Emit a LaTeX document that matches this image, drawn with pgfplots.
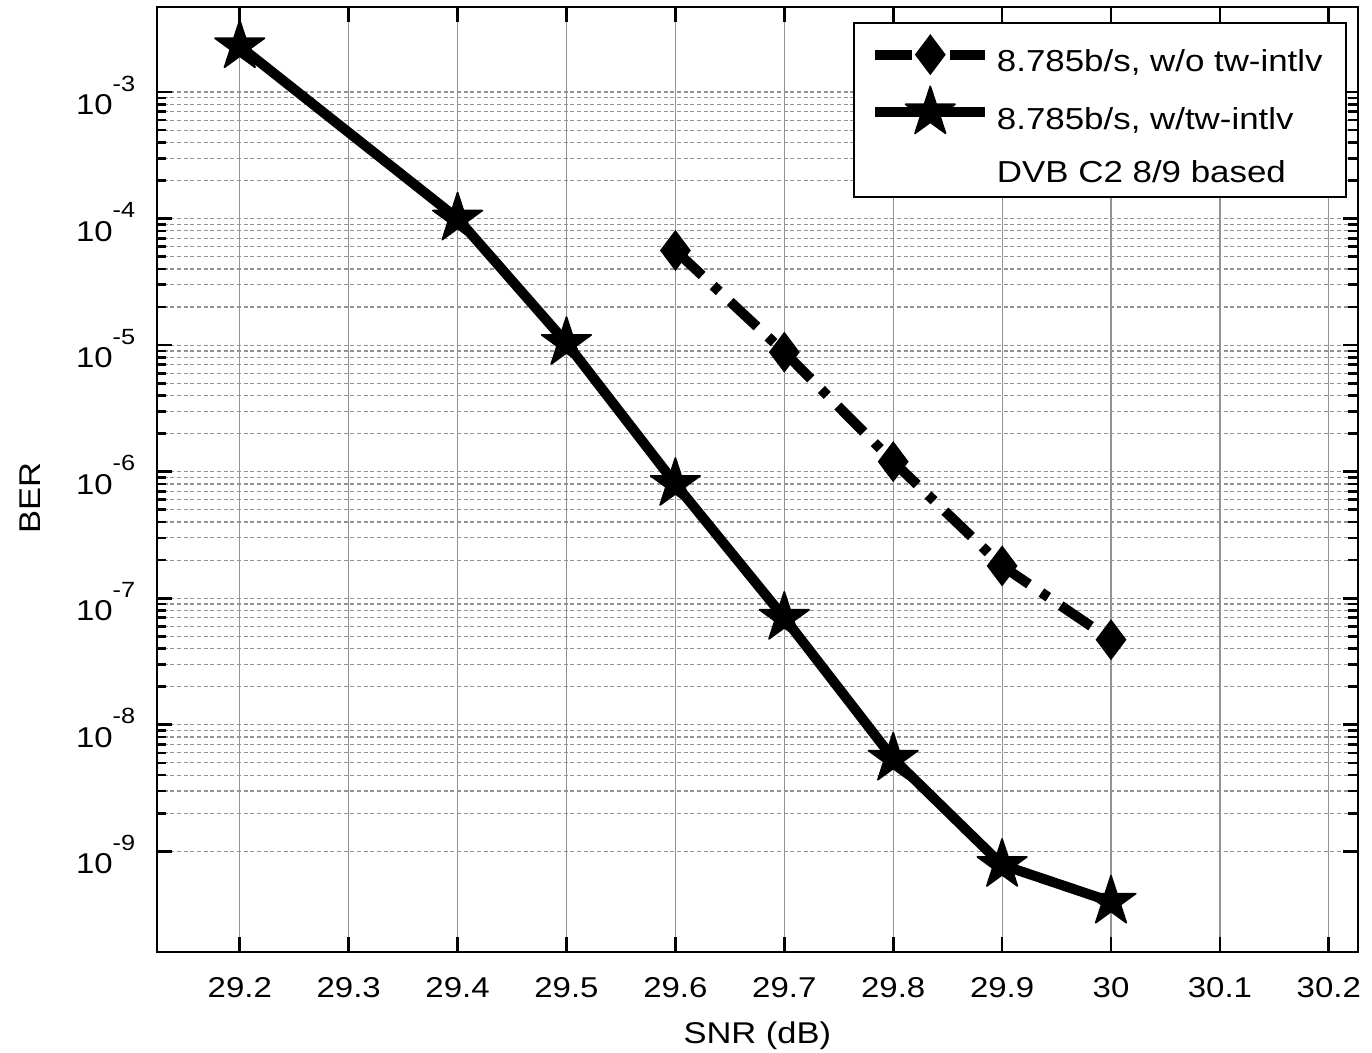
\documentclass[border=0pt]{standalone}
\usepackage{fontspec}
\setmainfont{Liberation Sans}[FakeStretch=1.15]
\usepackage{pgfplots}
\pgfplotsset{compat=1.18}

\pgfdeclareplotmark{fstar}{%
  \pgfpathmoveto{\pgfpointpolar{90}{\pgfplotmarksize}}%
  \pgfpathlineto{\pgfpointpolar{126}{0.382\pgfplotmarksize}}%
  \pgfpathlineto{\pgfpointpolar{162}{\pgfplotmarksize}}%
  \pgfpathlineto{\pgfpointpolar{198}{0.382\pgfplotmarksize}}%
  \pgfpathlineto{\pgfpointpolar{234}{\pgfplotmarksize}}%
  \pgfpathlineto{\pgfpointpolar{270}{0.382\pgfplotmarksize}}%
  \pgfpathlineto{\pgfpointpolar{306}{\pgfplotmarksize}}%
  \pgfpathlineto{\pgfpointpolar{342}{0.382\pgfplotmarksize}}%
  \pgfpathlineto{\pgfpointpolar{18}{\pgfplotmarksize}}%
  \pgfpathlineto{\pgfpointpolar{54}{0.382\pgfplotmarksize}}%
  \pgfpathclose
  \pgfusepathqfillstroke}

\newcommand\tp[1]{10\raisebox{7pt}{\fontsize{6.6pt}{6.6pt}\selectfont #1}}

\begin{document}
\begin{tikzpicture}
\begin{axis}[
  scale only axis,
  width=360.2pt, height=283.5pt,
  xmin=29.124, xmax=30.2265,
  ymode=log, ymin=1.6e-10, ymax=4.7e-3,
  xtick={29.2,29.3,29.4,29.5,29.6,29.7,29.8,29.9,30,30.1,30.2},
  xticklabels={29.2,29.3,29.4,29.5,29.6,29.7,29.8,29.9,30,30.1,30.2},
  ytick={1e-9,1e-8,1e-7,1e-6,1e-5,1e-4,1e-3},
  yticklabels={\tp{-9},\tp{-8},\tp{-7},\tp{-6},\tp{-5},\tp{-4},\tp{-3}},
  tick align=inside,
  tick pos=both,
  major tick length=4.5pt,
  minor tick length=2.8pt,
  every tick/.style={black, line width=0.8pt},
  axis line style={black, line width=0.6pt},
  xmajorgrids, ymajorgrids, yminorgrids,
  x grid style={gray!85, line width=0.35pt},
  y grid style={gray!85, line width=0.35pt, dash pattern=on 1.2pt off 0.8pt},
  ticklabel style={font=\fontsize{8.6pt}{10pt}\selectfont},
  xticklabel style={yshift=-4pt},
  yticklabel style={xshift=-3pt, yshift=-1pt},
  xlabel={SNR (dB)},
  ylabel={BER},
  label style={font=\fontsize{9pt}{11pt}\selectfont},
  xlabel style={at={(axis description cs:0.5,0)}, anchor=center, yshift=-25pt},
  ylabel style={at={(axis description cs:0,0.48)}, anchor=center, yshift=38pt},
  legend style={at={(rel axis cs:1,1)}, anchor=north east, xshift=-3.2pt, yshift=-4.5pt,
    draw=black, line width=0.6pt, fill=white,
    font=\fontsize{9.1pt}{11pt}\selectfont,
    inner xsep=5pt, inner ysep=3pt, row sep=3pt,
    nodes={inner ysep=0pt, inner xsep=2pt, text height=11.5pt, text depth=1.5pt}},
  legend cell align=left,
  legend image code/.code={\draw[mark repeat=2,mark phase=2] plot coordinates {(0pt,0pt)(16.5pt,0pt)(33pt,0pt)};},
]
\addplot[black, line width=3pt, dash pattern=on 11pt off 4.5pt on 2.5pt off 4.5pt,
  mark=diamond*, mark size=5.5pt, mark options={solid, fill=black, line width=0.8pt}]
  coordinates {(29.6,5.6e-5)(29.7,8.8e-6)(29.8,1.2e-6)(29.9,1.8e-7)(30,4.7e-8)};
\addlegendentry{8.785b/s, w/o tw-intlv}
\addplot[black, line width=3pt, line join=round,
  mark=fstar, mark size=7.8pt, mark options={solid, fill=black, line width=0.5pt}]
  coordinates {(29.2,2.3e-3)(29.4,1e-4)(29.5,1.04e-5)(29.6,8e-7)(29.7,7e-8)(29.8,5.4e-9)(29.9,7.8e-10)(30,4e-10)};
\addlegendentry{8.785b/s, w/tw-intlv}
\addlegendimage{empty legend}
\addlegendentry{DVB C2 8/9 based}
\end{axis}
\pgfresetboundingbox
\useasboundingbox (-47.1pt,-30pt) rectangle (364.5pt,285.6pt);
\end{tikzpicture}
\end{document}
